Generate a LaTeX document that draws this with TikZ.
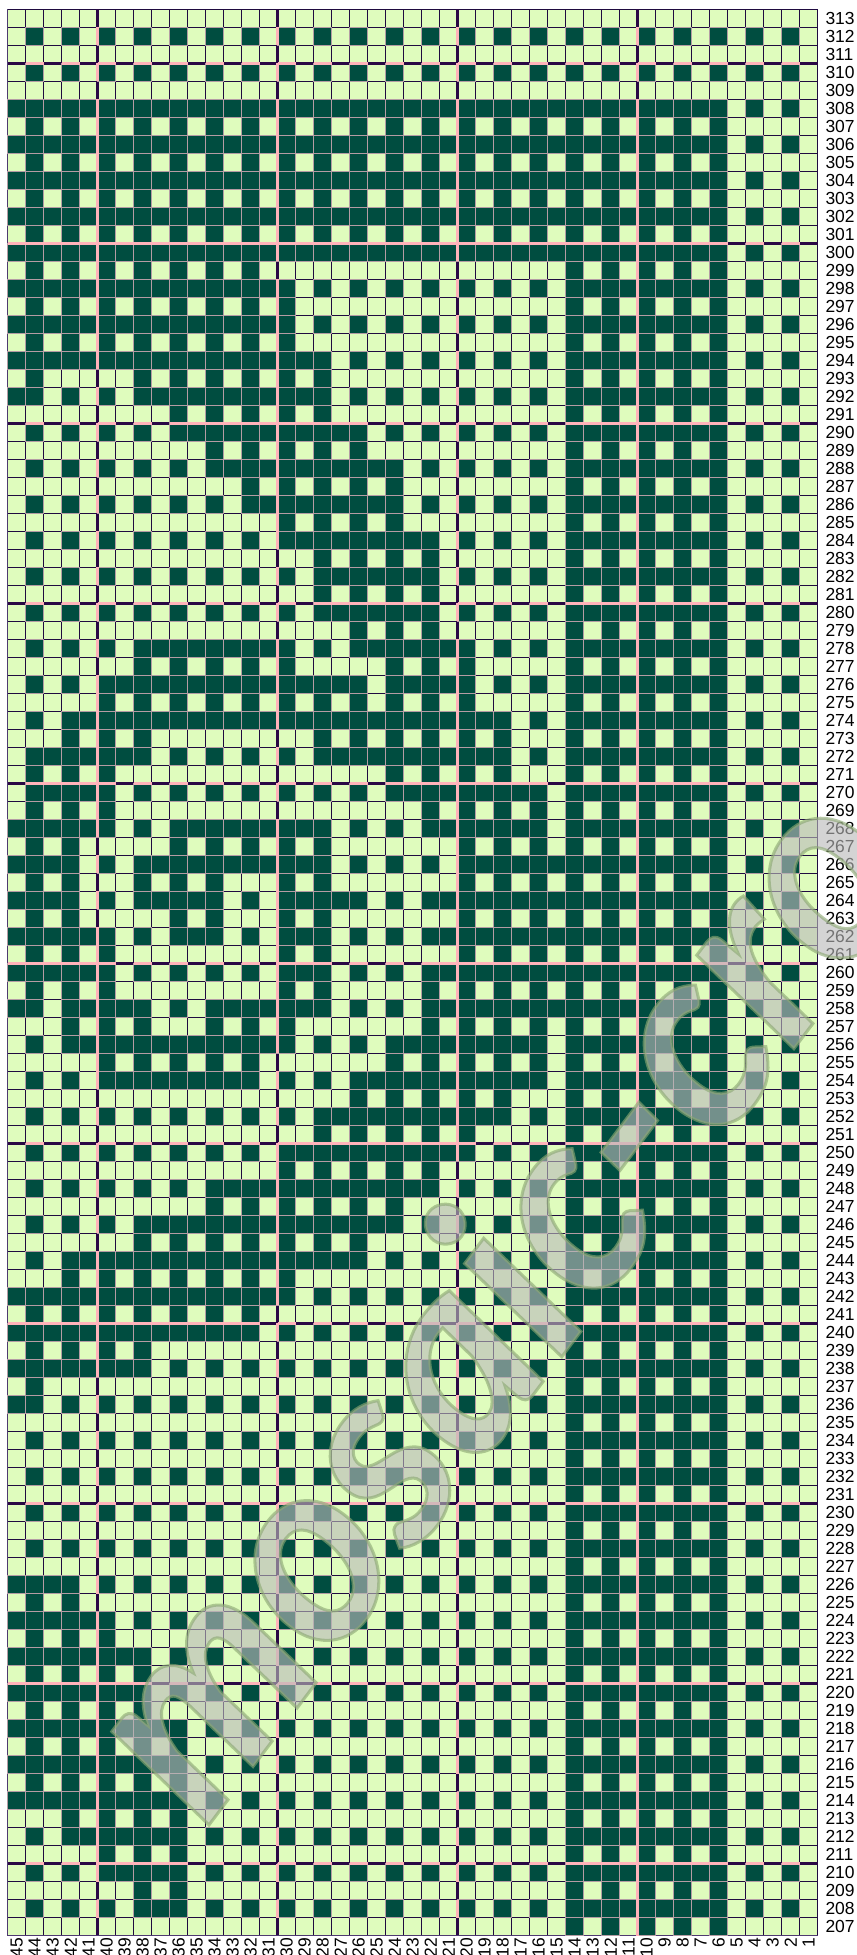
\documentclass[tikz,border=0pt]{standalone}
\usepackage{fontspec}
\setmainfont{Liberation Sans}
\newfontfamily\markfont{Lato}
\usetikzlibrary{calc}
\definecolor{cellLight}{HTML}{DFFCBD}
\definecolor{cellDark}{HTML}{004D40}
\definecolor{linePink}{HTML}{FFB3BA}
\definecolor{lineDark}{HTML}{1F0A40}
\definecolor{lineHeavy}{HTML}{2A0845}
\definecolor{lineEdge}{HTML}{4E3A70}
\definecolor{lineSoft}{HTML}{B49CA4}
\tikzset{
    thingrid/.style={line width=0.85pt, lineDark},
    heavygrid/.style={line width=2.2pt, lineHeavy},
    heavypink/.style={line width=2.2pt, linePink},
    darkcell/.style={fill=cellDark, draw=lineSoft, line width=0.85pt},
    rowlabel/.style={anchor=west, inner sep=0pt, font=\fontsize{13.8pt}{14pt}\selectfont},
    collabel/.style={anchor=east, rotate=90, inner sep=0pt, font=\fontsize{13.8pt}{14pt}\selectfont},
    marktext/.style={rotate=53, inner sep=0pt, opacity=.62, text=black!27, font=\markfont\bfseries\itshape\fontsize{206pt}{206pt}\selectfont}
}
\newcommand{\putdark}[2]{
    \draw[darkcell] (45-#1,#2-207) rectangle +(1,1);
}
\newcommand{\putpink}[2]{
    \pgfmathtruncatemacro{\colm}{mod(#1,10)}
    \pgfmathtruncatemacro{\rowm}{mod(#2,10)}
    \ifnum\colm=0 \draw[heavypink] (45-#1,#2-207) -- +(0,1); \fi
    \ifnum\colm=1 \draw[heavypink] (46-#1,#2-207) -- +(0,1); \fi
    \ifnum\rowm=0 \draw[heavypink] (45-#1,#2-206) -- +(1,0); \fi
    \ifnum\rowm=1 \draw[heavypink] (45-#1,#2-207) -- +(1,0); \fi
}
\newcommand{\forcells}[1]{
    % Even rows, even columns
    \foreach \r in {208,210,...,312}
    \foreach \c in {2,4,...,44}
    {
    #1{\c}{\r}
    }

    % Side band, columns 6 to 14
    \foreach \r in {208,210,...,308}
    \foreach \c in {7,9,11,13}
    {
    #1{\c}{\r}
    }
    \foreach \r in {207,209,...,307}
    \foreach \c in {6,8,...,14}
    {
    #1{\c}{\r}
    }

    % Pattern, row/columns
    \foreach \r/\dk in {
        308/{15,17,...,45}, 306/{15,17,...,45}, 304/{15,17,...,45}, 302/{15,17,...,45}, 300/{15,17,...,45},
        307/{16,18,...,44}, 305/{16,18,...,44}, 303/{16,18,...,44}, 301/{16,18,...,44},
        299/{32,34,...,44}, 298/{31,33,...,45}, 297/{30,32,...,44}, 296/{31,33,...,45}, 295/{30,32,...,44},
        294/{29,31,...,45}, 293/{28,30,...,38,44}, 292/{29,31,...,37,45}, 291/{28,30,...,36},
        290/{27,29,...,35}, 289/{26,28,...,34}, 288/{25,27,...,33}, 287/{24,26,...,32},
        286/{25,27,...,31}, 285/{24,26,...,30}, 284/{23,25,...,29}, 283/{22,24,...,28},
        282/{23,25,27}, 281/{22,24,...,28}, 280/{23,25,27}, 279/{22,24,26},
        278/{21,23,25,31,33,...,37}, 277/{20,22,24,30,32,...,38}, 276/{21,23,27,29,...,39}, 275/{20,22,...,40},
        274/{19,21,...,41}, 273/{18,20,...,28,38,40,42}, 272/{19,21,...,27,39,41,43}, 271/{18,20,...,24,40,42,44},
        270/{17,19,...,23,41,43}, 269/{16,18,...,22,40,42,44}, 268/{17,19,21,29,31,...,35,41,43,45},
        267/{16,18,20,28,30,...,36,42,44}, 266/{15,17,19,29,31,...,37,43,45},
        265/{16,18,20,28,30,34,36,38,42,44}, 264/{15,17,...,21,27,29,35,37,43,45},
        263/{16,18,20,28,30,34,36,42,44}, 262/{15,17,...,21,29,35,41,43,45},
        261/{16,18,20,28,30,40,42,44}, 260/{15,17,...,21,29,41,43,45},
        259/{16,18,...,22,28,30,40,42,44}, 258/{15,17,...,21,29,31,33,39,41,45},
        257/{16,18,...,22,30,32,34,38,40,42}, 256/{17,19,...,23,31,33,...,41},
        255/{16,18,...,24,32,34,...,40}, 254/{17,19,...,25,33,35,...,39},
        253/{18,20,...,26}, 252/{19,21,...,27}, 251/{20,22,...,28}, 250/{21,23,...,29},
        249/{22,24,...,30}, 248/{23,25,...,33}, 247/{24,26,...,34}, 246/{25,27,...,37},
        245/{26,28,...,38}, 244/{27,29,...,41}, 243/{30,32,...,42}, 242/{31,33,...,45},
        241/{32,34,...,44}, 240/{33,35,...,45}, 239/{38,40,42,44}, 238/{39,41,43,45},
        237/{44}, 236/{45}, 226/{43,45}, 225/{42,44}, 224/{41,43,45}, 223/{40,42,44},
        222/{39,41,43,45}, 221/{38,40,42,44}, 220/{39,41,43,45}, 219/{38,40,42,44},
        218/{37,39,...,45}, 217/{36,38,...,44}, 216/{37,39,...,45}, 215/{36,38,...,44},
        214/{37,39,...,45}, 213/{36,38,40,42}, 212/{37,39,41}, 211/{36,38,40},
        210/{37,39}, 209/{36,38}, 208/{37}}
    \foreach \c in \dk
    {
    #1{\c}{\r}
    }
}
\begin{document}
\begin{tikzpicture}[x=0.5cm,y=0.5cm]
    \useasboundingbox (-0.428,-1.083) rectangle (47.128,107.528);
    \fill[cellLight] (0,0) rectangle (45,107);

    % Thin and heavy grid
    \foreach \x in {0,...,45} \draw[thingrid] (\x,0) -- (\x,107);
    \foreach \y in {0,...,107} \draw[thingrid] (0,\y) -- (45,\y);
    \foreach \x in {5,15,25,35} \draw[heavygrid] (\x,0) -- (\x,107);
    \foreach \y in {4,14,...,104} \draw[heavygrid] (0,\y) -- (45,\y);
    \draw[thingrid, lineEdge] (45,0) -- (0,0) -- (0,107);

    % Cells, then the pink parts of the heavy lines
    \forcells{\putdark}
    \forcells{\putpink}

    % Numbers
    \foreach \r in {207,...,313}
    \node[rowlabel] (row\r) at (45.42,\r-206.5) {\r};
    \foreach \c in {1,...,45}
    \node[collabel] (col\c) at (45.5-\c,-0.12) {\c};

    % Mark
    \node[marktext, anchor=base west] (markmain) at (11.0,5.9)
        {\special{pdf:code 2 Tr 2.4 w 0.55 0.66 0.45 RG}mosaic-cro\special{pdf:code 0 Tr}};
\end{tikzpicture}
\end{document}
